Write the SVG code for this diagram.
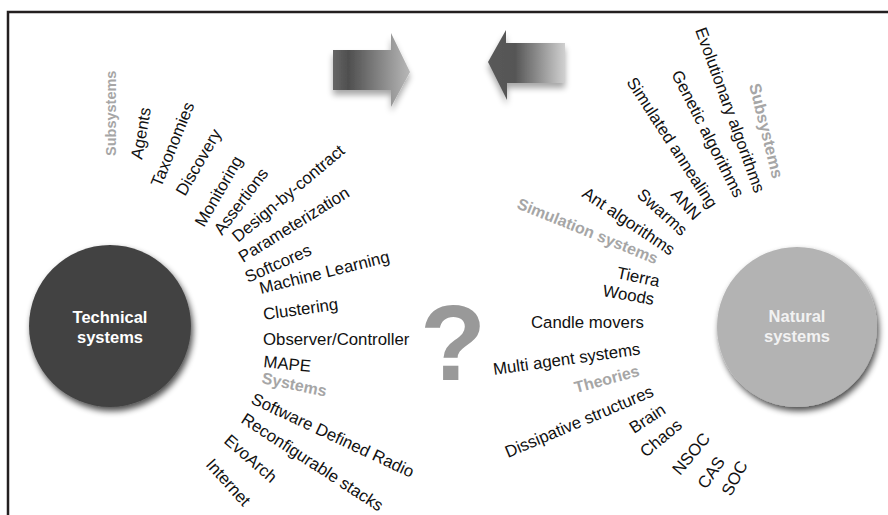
<svg xmlns="http://www.w3.org/2000/svg" width="888" height="515" viewBox="0 0 888 515">
<defs>
<style>
.t{font-family:"Liberation Sans",Arial,sans-serif;font-size:16.8px;fill:#111}
.g{font-family:"Liberation Sans",Arial,sans-serif;font-size:16px;font-weight:bold;fill:#a6a6a6}
.c{font-family:"Liberation Sans",Arial,sans-serif;font-size:16.5px;font-weight:bold;text-anchor:middle}
</style>
<filter id="sh" x="-20%" y="-20%" width="150%" height="150%">
<feGaussianBlur in="SourceAlpha" stdDeviation="3"/>
<feOffset dx="2" dy="4" result="b"/>
<feComponentTransfer><feFuncA type="linear" slope="0.7"/></feComponentTransfer>
<feMerge><feMergeNode/><feMergeNode in="SourceGraphic"/></feMerge>
</filter>
<filter id="ash" x="-20%" y="-30%" width="140%" height="170%">
<feGaussianBlur in="SourceAlpha" stdDeviation="3"/>
<feOffset dx="0" dy="5" result="b"/>
<feComponentTransfer><feFuncA type="linear" slope="0.35"/></feComponentTransfer>
<feMerge><feMergeNode/><feMergeNode in="SourceGraphic"/></feMerge>
</filter>
<linearGradient id="ga" x1="333" y1="0" x2="410" y2="0" gradientUnits="userSpaceOnUse">
<stop offset="0" stop-color="#666"/><stop offset="0.2" stop-color="#4f4f4f"/><stop offset="1" stop-color="#b8b8b8"/>
</linearGradient>
<linearGradient id="gb" x1="488" y1="0" x2="565" y2="0" gradientUnits="userSpaceOnUse">
<stop offset="0" stop-color="#5a5a5a"/><stop offset="0.35" stop-color="#555"/><stop offset="1" stop-color="#d0d0d0"/>
</linearGradient>
</defs>
<rect width="888" height="515" fill="#fff"/>
<path d="M8 515 V12 H888" fill="none" stroke="#231f20" stroke-width="2.5"/>

<g id="arrow-right" filter="url(#ash)">
<polygon points="333,50 391,50 391,33 410,72 391,107 391,90 333,90" fill="url(#ga)"/>
</g>
<g id="arrow-left" filter="url(#ash)">
<polygon points="565,43 506,43 506,30 488,62 507,100 507,83 565,83" fill="url(#gb)"/>
</g>

<g id="technical">
<circle cx="110" cy="326" r="81" fill="#434343" filter="url(#sh)"/>
<text class="c" x="110" y="323" fill="#fff">Technical</text>
<text class="c" x="110" y="343" fill="#fff">systems</text>
</g>
<g id="natural">
<circle cx="797" cy="327" r="80" fill="#b3b3b3" filter="url(#sh)"/>
<text class="c" x="797" y="322" fill="#f2f2f2">Natural</text>
<text class="c" x="797" y="342" fill="#f2f2f2">systems</text>
</g>

<g id="question">
<text x="420" y="380" style="font-family:'Liberation Sans',Arial,sans-serif;font-size:108px;font-weight:bold;fill:#999">?</text>
</g>

<g id="left-labels">
<text class="g" style="font-size:14.5px" transform="translate(116 156) rotate(-90)">Subsystems</text>
<text class="t" transform="translate(142 160) rotate(-80)">Agents</text>
<text class="t" transform="translate(161 188) rotate(-68)">Taxonomies</text>
<text class="t" transform="translate(185 197) rotate(-60)">Discovery</text>
<text class="t" transform="translate(204 228) rotate(-60)">Monitoring</text>
<text class="t" transform="translate(222 236) rotate(-53)">Assertions</text>
<text class="t" transform="translate(238 243) rotate(-40)">Design-by-contract</text>
<text class="t" transform="translate(243 263) rotate(-32)">Parameterization</text>
<text class="t" transform="translate(248 283) rotate(-24)">Softcores</text>
<text class="t" transform="translate(261 294) rotate(-14)">Machine Learning</text>
<text class="t" transform="translate(264 320) rotate(-8)">Clustering</text>
<text class="t" transform="translate(263 345)">Observer/Controller</text>
<text class="t" transform="translate(263 367) rotate(6)">MAPE</text>
<text class="g" transform="translate(261 383) rotate(12)">Systems</text>
<text class="t" transform="translate(250 403) rotate(25)">Software Defined Radio</text>
<text class="t" transform="translate(240 422) rotate(33)">Reconfigurable stacks</text>
<text class="t" transform="translate(223 442) rotate(41)">EvoArch</text>
<text class="t" transform="translate(205 465) rotate(48)">Internet</text>
</g>

<g id="right-labels">
<text class="t" transform="translate(695 30) rotate(70)">Evolutionary algorithms</text>
<text class="g" style="font-size:16.5px" transform="translate(749 85) rotate(76)">Subsystems</text>
<text class="t" transform="translate(671 74) rotate(63)">Genetic algorithms</text>
<text class="t" transform="translate(626 82) rotate(57)">Simulated annealing</text>
<text class="t" transform="translate(670 195) rotate(48)">ANN</text>
<text class="t" transform="translate(636 196) rotate(42)">Swarms</text>
<text class="t" transform="translate(581 196) rotate(34)">Ant algorithms</text>
<text class="g" transform="translate(516 208) rotate(22)">Simulation systems</text>
<text class="t" transform="translate(616 278) rotate(12)">Tierra</text>
<text class="t" transform="translate(602 296) rotate(10)">Woods</text>
<text class="t" transform="translate(531 328)">Candle movers</text>
<text class="t" transform="translate(494 375) rotate(-8)">Multi agent systems</text>
<text class="g" transform="translate(576 393) rotate(-15)">Theories</text>
<text class="t" transform="translate(508 458) rotate(-23)">Dissipative structures</text>
<text class="t" transform="translate(634 434) rotate(-33)">Brain</text>
<text class="t" transform="translate(646 458) rotate(-40)">Chaos</text>
<text class="t" transform="translate(680 476) rotate(-50)">NSOC</text>
<text class="t" transform="translate(706 490) rotate(-55)">CAS</text>
<text class="t" transform="translate(731 497) rotate(-62)">SOC</text>
</g>
</svg>
